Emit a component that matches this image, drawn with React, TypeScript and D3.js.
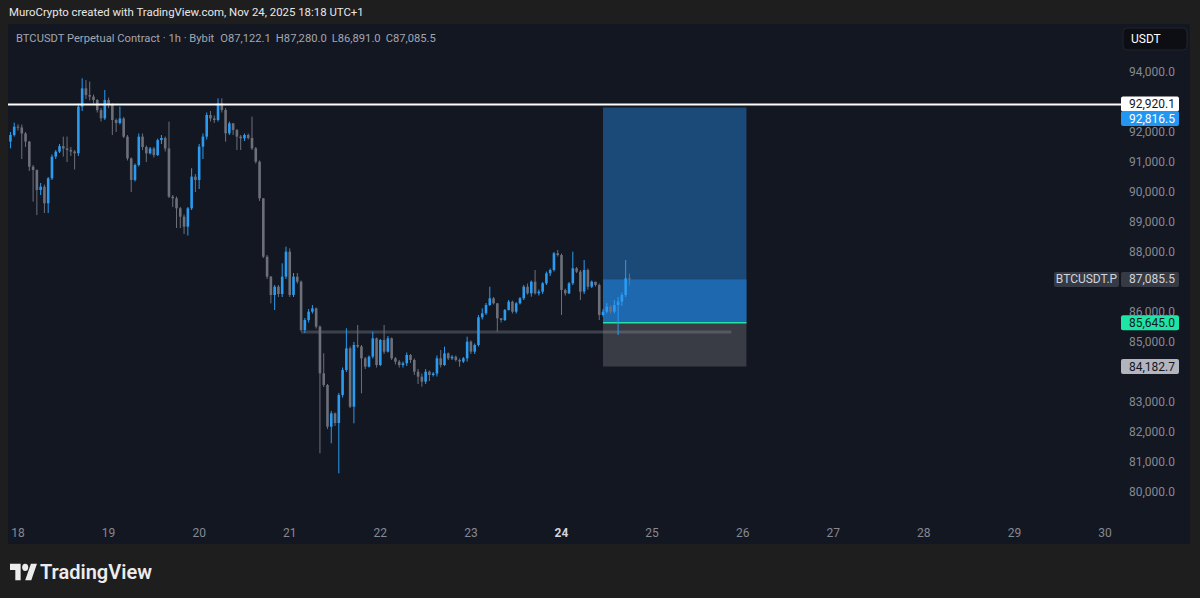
import * as d3 from "d3";

const W = 1200;
const H = 598;
const HOUR = 3600e3;
const START = Date.UTC(2025, 10, 17, 22);

// hourly BTCUSDT.P candles, Nov 17 22:00 -> Nov 24 18:00
const firstOpen = 91680;
const closes = [
  91900, 92178, 92150, 91950, 91680, 90845, 90734, 90067, 90178, 89623,
  90456, 91178, 91345, 91530, 91450, 91400, 91350, 91290, 92845, 93456,
  93230, 93180, 93067, 92730, 92456, 93067, 92900, 92400, 92300, 92450,
  91845, 91120, 90400, 90900, 91845, 91500, 91290, 91450, 91230, 91730,
  91800, 91450, 89845, 89790, 89456, 89178, 88845, 89456, 90512, 90400,
  91512, 91845, 92567, 92450, 92400, 92955, 92733, 91955, 92289, 92067,
  91845, 91790, 91900, 91800, 91455, 91011, 89789, 87844, 87178, 86567,
  86844, 86600, 87178, 88011, 86567, 87178, 87011, 85400, 85733, 86011,
  86122, 85511, 83956, 83567, 82178, 82622, 82300, 83233, 84067, 84789,
  82844, 84900, 84850, 84456, 84178, 84511, 85122, 84233, 85067, 84678,
  85122, 84456, 84344, 84233, 84290, 84567, 84400, 84011, 83844, 83678,
  84011, 83900, 83950, 84456, 84233, 84622, 84456, 84510, 84400, 84350,
  84456, 85011, 84678, 84900, 85822, 85956, 86233, 86456, 86289, 85789,
  85733, 86067, 86344, 86011, 86289, 86456, 86844, 86622, 87011, 86622,
  86678, 86956, 87289, 87400, 87956, 87900, 86733, 86622, 86956, 87456,
  87344, 86678, 87400, 86844, 87011, 86900, 85900, 86011, 86178, 86011,
  86233, 86344, 86567, 87122.1, 87085.5,
];
const highs = [
  92000, 92311, 92260, 92250, 92000, 91700, 90900, 90750, 90300, 90250,
  90500, 91250, 91400, 91600, 91845, 91845, 91500, 91400, 92950, 93790,
  93730, 93680, 93250, 93100, 92800, 93400, 93150, 92950, 92450, 92850,
  92500, 91900, 91150, 90950, 91950, 91950, 91550, 91500, 91500, 91780,
  91900, 91850, 92345, 89900, 89850, 89500, 89250, 89500, 90790, 90600,
  91600, 91950, 92650, 92700, 92550, 93122, 93122, 92800, 92350, 92300,
  92100, 91900, 91950, 91950, 92511, 91500, 91050, 89800, 87900, 87200,
  86900, 86900, 87622, 88178, 88122, 87300, 87300, 87050, 85800, 86100,
  86233, 86150, 85550, 84622, 83600, 82700, 82650, 83300, 84150, 85456,
  84850, 85000, 85567, 84900, 84500, 84550, 85344, 85150, 85100, 85567,
  85200, 85150, 84500, 84400, 84350, 84650, 84600, 84450, 84100, 83950,
  84100, 84050, 84000, 84550, 84733, 84844, 84650, 84560, 84550, 84450,
  84500, 85178, 85050, 84950, 85900, 86122, 86300, 86844, 86500, 86300,
  85800, 86100, 86400, 86380, 86330, 86500, 86900, 86950, 87050, 87400,
  86750, 87000, 87350, 87450, 88000, 88067, 87950, 86780, 87000, 88011,
  87500, 87400, 87733, 87450, 87050, 87000, 86950, 86100, 86300, 86233,
  86400, 86500, 86650, 87733, 87280,
];
const lows = [
  91456, 91850, 92050, 91100, 91500, 90700, 89680, 89230, 89900, 89300,
  89300, 90400, 91100, 91300, 91180, 91000, 91200, 90750, 91200, 92700,
  93100, 93050, 92950, 92650, 92350, 92400, 92800, 91900, 92000, 92250,
  91800, 91050, 90000, 90350, 90850, 91400, 91000, 91250, 91150, 91200,
  91600, 91350, 89800, 89500, 88800, 88800, 88600, 88550, 89400, 90000,
  90100, 91100, 91750, 92350, 92300, 92350, 92650, 91678, 91900, 91900,
  91400, 91400, 91700, 91750, 91400, 90950, 89700, 87800, 87100, 86289,
  86067, 86500, 86500, 87100, 86500, 86500, 86950, 85350, 85300, 85650,
  85950, 85450, 81289, 83500, 82100, 81622, 82200, 80622, 83150, 84000,
  82800, 82289, 84800, 83289, 84100, 84150, 84450, 84150, 84200, 84600,
  84650, 84400, 84250, 84150, 84150, 84200, 84300, 83900, 83600, 83511,
  83600, 83700, 83850, 83850, 84150, 84200, 84400, 84400, 84350, 84178,
  84300, 84350, 84600, 84600, 84850, 85750, 85900, 86200, 86250, 85344,
  85650, 85700, 86050, 85950, 85950, 86250, 86400, 86580, 86511, 86580,
  86550, 86600, 86900, 87200, 87350, 87850, 85900, 86550, 86600, 86900,
  87300, 86400, 86600, 86750, 86800, 86850, 85733, 85850, 85950, 85950,
  85950, 85233, 86200, 86500, 86891,
];

const priceTicks = [94000, 92000, 91000, 90000, 89000, 88000, 86000, 85000, 83000, 82000, 81000, 80000];
const dayTicks = [18, 19, 20, 21, 22, 23, 24, 25, 26, 27, 28, 29, 30];

const resistance = 92920.1;
const target = 92816.5;
const lastPrice = 87085.5;
const entry = 85645.0;
const stop = 84182.7;
const supportLevel = 85330;
const boxStart = Date.UTC(2025, 10, 24, 11);
const boxEnd = Date.UTC(2025, 10, 26, 1);
const supportStart = Date.UTC(2025, 10, 21, 3);
const supportEnd = Date.UTC(2025, 10, 25, 21);

const FONT = "Roboto, 'Noto Sans', sans-serif";
const UP = "#2a9bf0";
const DOWN = "#6d7079";

const x = d3
  .scaleUtc()
  .domain([Date.UTC(2025, 10, 18), Date.UTC(2025, 10, 30)])
  .range([18, 1105]);
const y = d3.scaleLinear().domain([80000, 94000]).range([492, 72]);
const fmt = d3.format(",.1f");

const candles = closes.map((c, i) => ({
  t: START + i * HOUR,
  o: i === 0 ? firstOpen : closes[i - 1],
  h: highs[i],
  l: lows[i],
  c,
}));
if (candles.length) candles[candles.length - 1].o = 87122.1;

const AxisTag = ({ price, fill, color, yPos }: { price: number; fill: string; color: string; yPos?: number }) => {
  const cy = yPos ?? y(price);
  return (
    <g>
      <rect x={1121} y={cy - 7.5} width={58} height={15} rx={2} fill={fill} />
      <text x={1175} y={cy + 4} textAnchor="end" fontSize={12} fill={color} fontFamily={FONT}>
        {fmt(price)}
      </text>
    </g>
  );
};

export default function App() {
  const bw = 2.6;
  return (
    <svg width={W} height={H} style={{ position: "fixed", left: 0, top: 0 }}>
      <rect width={W} height={H} fill="#1e1e1e" />
      <text x={9} y={16} fontSize={11.4} fill="#e8e8e8" fontFamily={FONT}>
        MuroCrypto created with TradingView.com, Nov 24, 2025 18:18 UTC+1
      </text>
      <rect x={8} y={24} width={1182} height={520} fill="#131722" />

      {/* position tool */}
      <rect x={x(boxStart)} y={y(target)} width={x(boxEnd) - x(boxStart)} height={y(entry) - y(target)} fill="#1b4a78" />
      <rect x={x(boxStart)} y={y(lastPrice)} width={x(boxEnd) - x(boxStart)} height={y(entry) - y(lastPrice)} fill="#1e68b0" />
      <rect x={x(boxStart)} y={y(entry)} width={x(boxEnd) - x(boxStart)} height={y(stop) - y(entry)} fill="#393c45" />

      <line x1={x(supportStart)} x2={x(supportEnd)} y1={y(supportLevel)} y2={y(supportLevel)} stroke="#8c8f99" strokeOpacity={0.35} strokeWidth={3} />
      <line x1={x(boxStart)} x2={x(boxEnd)} y1={y(entry)} y2={y(entry)} stroke="#22e3a4" strokeWidth={1.5} />

      {/* candles */}
      {candles.map((d) => {
        const up = d.c >= d.o;
        const col = up ? UP : DOWN;
        const cx = x(d.t);
        const top = y(Math.max(d.o, d.c));
        const bot = y(Math.min(d.o, d.c));
        return (
          <g key={d.t}>
            <line x1={cx} x2={cx} y1={y(d.h)} y2={y(d.l)} stroke={col} strokeWidth={1} />
            <rect x={cx - bw / 2} y={top} width={bw} height={Math.max(1, bot - top)} fill={col} />
          </g>
        );
      })}

      <line x1={8} x2={1121} y1={y(resistance)} y2={y(resistance)} stroke="#ffffff" strokeWidth={2} />

      <text x={16} y={42} fontSize={11.2} fill="#a3a6af" fontFamily={FONT}>
        BTCUSDT Perpetual Contract · 1h · Bybit
        <tspan dx={6}>O87,122.1</tspan>
        <tspan dx={5}>H87,280.0</tspan>
        <tspan dx={5}>L86,891.0</tspan>
        <tspan dx={5}>C87,085.5</tspan>
      </text>

      {/* price axis */}
      <rect x={1123} y={28} width={64} height={22} rx={4} fill="#0c0e13" stroke="#22252d" />
      <text x={1131} y={43} fontSize={12} fill="#ffffff" fontFamily={FONT}>
        USDT
      </text>
      {priceTicks.map((p) => (
        <text key={p} x={1175} y={y(p) + 4} textAnchor="end" fontSize={12} fill="#868992" fontFamily={FONT}>
          {fmt(p)}
        </text>
      ))}
      <AxisTag price={resistance} fill="#ffffff" color="#131722" yPos={104} />
      <AxisTag price={target} fill="#2196f3" color="#ffffff" yPos={118.5} />
      <rect x={1054} y={y(lastPrice) - 7.5} width={65} height={15} rx={2} fill="#363a45" />
      <text x={1086.5} y={y(lastPrice) + 4} textAnchor="middle" fontSize={12} fill="#d1d4dc" fontFamily={FONT}>
        BTCUSDT.P
      </text>
      <AxisTag price={lastPrice} fill="#363a45" color="#d1d4dc" />
      <AxisTag price={entry} fill="#1fe5a4" color="#131722" />
      <AxisTag price={stop} fill="#b2b5be" color="#131722" />

      {/* time axis */}
      {dayTicks.map((d) => (
        <text
          key={d}
          x={x(Date.UTC(2025, 10, d))}
          y={537}
          textAnchor="middle"
          fontSize={12}
          fontWeight={d === 24 ? 700 : 400}
          fill={d === 24 ? "#d1d4dc" : "#868992"}
          fontFamily={FONT}
        >
          {d}
        </text>
      ))}

      {/* logo */}
      <g transform="translate(10,560) scale(0.76,0.92)" fill="#ececec">
        <path d="M14 22H7V11H0V4h14v18zM28 22h-8l7.5-18h8L28 22z" />
        <circle cx={20} cy={8} r={4} />
      </g>
      <text x={40} y={579} fontSize={20} fontWeight={600} fill="#ececec" fontFamily={FONT}>
        TradingView
      </text>
    </svg>
  );
}
